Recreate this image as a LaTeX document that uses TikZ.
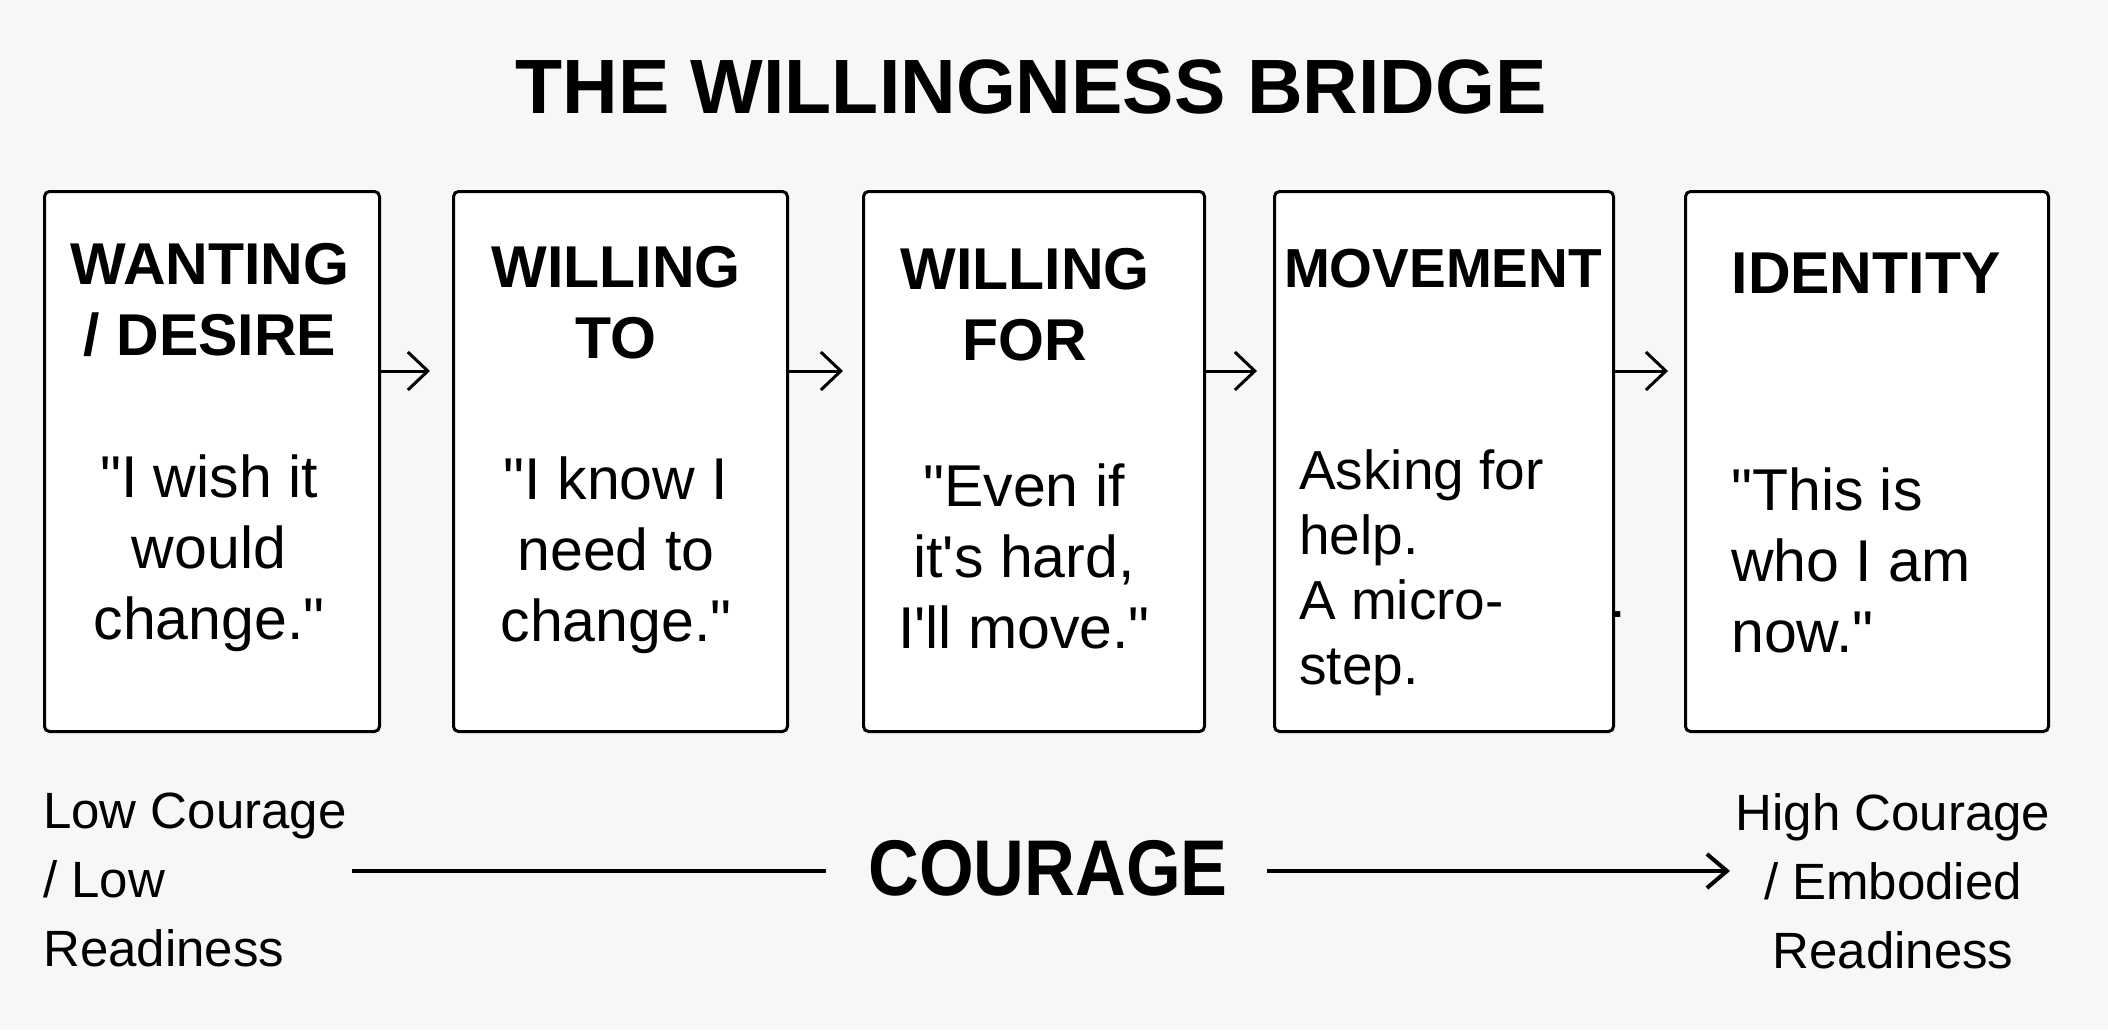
\documentclass[tikz,border=0pt]{standalone}
\usepackage{fontspec}
\setmainfont{Liberation Sans}[Ligatures=TeXOff]
\newfontfamily\condfont{Liberation Sans}[FakeStretch=0.89, Ligatures=TeXOff]
\usetikzlibrary{arrows.meta}
\definecolor{bgc}{HTML}{F7F7F7}
\tikzset{
  card/.style={draw=black, line width=3pt, fill=white, rounded corners=5pt,
    inner sep=0pt, anchor=north west},
  head/.style={inner sep=0pt, align=center, anchor=north,
    font=\bfseries\fontsize{59}{71}\selectfont},
  quotec/.style={inner sep=0pt, align=center, anchor=north,
    font=\fontsize{59}{71}\selectfont},
  quotel/.style={inner sep=0pt, align=left, anchor=north west,
    font=\fontsize{59}{71}\selectfont},
  flow/.style={line width=3pt, -{Straight Barb[length=20pt,width=38pt]}},
  endlabel/.style={inner sep=0pt, font=\fontsize{51}{69}\selectfont},
  axisline/.style={line width=4pt},
  axisarrow/.style={line width=4pt, -{Straight Barb[length=20pt,width=34pt]}}
}
\begin{document}
\begin{tikzpicture}[x=1pt,y=-1pt]
\fill[bgc] (0,0) rectangle (2108,1030);
\useasboundingbox (0,0) rectangle (2108,1030);

% title
\node[inner sep=0pt, anchor=north, font=\bfseries\fontsize{77}{90}\selectfont] (title) at (1031,60) {THE WILLINGNESS BRIDGE};

% cards
\node[card, minimum width=335pt, minimum height=540pt] (b1) at (43,190) {};
\node[card, minimum width=334pt, minimum height=540pt] (b2) at (452,190) {};
\node[card, minimum width=341pt, minimum height=540pt] (b3) at (862,190) {};
\node[card, minimum width=339pt, minimum height=540pt] (b4) at (1273,190) {};
\node[card, minimum width=363pt, minimum height=540pt] (b5) at (1684,190) {};

% card texts
\node[head] (h1) at (210,243) {WANTING\\/ DESIRE};
\node[quotec] (q1) at (209,455) {"I wish it\\would\\change."};

\node[head] (h2) at (616,246) {WILLING\\TO};
\node[quotec] (q2) at (616,457) {"I know I\\need to\\change."};

\node[head] (h3) at (1025,248) {WILLING\\FOR};
\node[quotec] (q3) at (1024,464) {"Even if\\it's hard,\\I'll move."};

\node[head, font=\bfseries\fontsize{55}{66}\selectfont] (h4) at (1443,249) {MOVEMENT};
\node[quotel, font=\fontsize{55}{65}\selectfont] (q4) at (1299,449) {Asking for\\help.\\A micro-\\step.};
\node[inner sep=0pt, anchor=base west, font=\fontsize{55}{65}\selectfont] (dot) at (1610,617) {.};

\node[head] (h5) at (1866,253) {IDENTITY};
\node[quotel] (q5) at (1731,468) {"This is\\who I am\\now."};

% flow arrows
\coordinate (ay) at (0,371);
\draw[flow, shorten >=22pt] (b1.east |- ay) -- (b2.west |- ay);
\draw[flow, shorten >=19pt] (b2.east |- ay) -- (b3.west |- ay);
\draw[flow, shorten >=16pt] (b3.east |- ay) -- (b4.west |- ay);
\draw[flow, shorten >=16pt] (b4.east |- ay) -- (b5.west |- ay);

% courage axis
\node[endlabel, align=left, anchor=north west] (low) at (43,793) {Low Courage\\/ Low\\Readiness};
\node[endlabel, align=center, anchor=north] (high) at (1893,793) {High Courage\\/ Embodied\\Readiness};
\node[inner sep=0pt, anchor=north, font=\condfont\bfseries\fontsize{79}{90}\selectfont] (courage) at (1048,840) {COURAGE};

\coordinate (cl) at (352,871);
\coordinate (cr) at (1730,871);
\draw[axisline, shorten >=42pt] (cl) -- (cl -| courage.west);
\draw[axisarrow, shorten <=39pt] (cr -| courage.east) -- (cr);
\end{tikzpicture}
\end{document}
